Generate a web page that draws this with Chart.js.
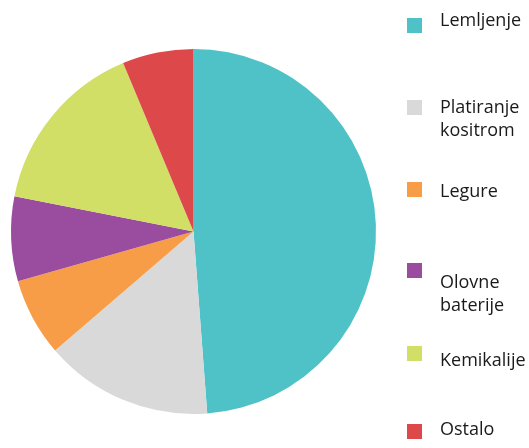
<!DOCTYPE html>
<html lang="en">
<head>
  <meta charset="UTF-8" />
  <title>Pie</title>
  <script src="https://cdn.jsdelivr.net/npm/chart.js"></script>
  <style>
    body { margin: 0; background: #fff; }
    #wrap { width: 529px; height: 448px; position: relative; }
  </style>
</head>
<body>
  <div id="wrap"><canvas id="pie"></canvas></div>
  <script>
    const labels = [["Lemljenje"], ["Platiranje", "kositrom"], ["Legure"], ["Olovne", "baterije"], ["Kemikalije"], ["Ostalo"]];
    const values = [48.8, 14.9, 6.9, 7.5, 15.6, 6.3];
    const colors = ["#4fc2c8", "#d9d9d9", "#f89d47", "#9a4d9e", "#d2df67", "#dd484b"];

    // legend layout: square top y, first text line centre y
    const legendSquareY = [18, 100, 182, 263, 346, 424];
    const legendTextY = [21, 108, 192, 283, 361, 430];

    const sideLegend = {
      id: "sideLegend",
      afterDraw(chart) {
        const ctx = chart.ctx;
        ctx.save();
        ctx.font = "18px 'Open Sans', sans-serif";
        ctx.textBaseline = "middle";
        chart.data.labels.forEach((lab, i) => {
          ctx.fillStyle = chart.data.datasets[0].backgroundColor[i];
          ctx.fillRect(407, legendSquareY[i], 15, 15);
          ctx.fillStyle = "#1a1a1a";
          lab.forEach((line, j) => {
            ctx.fillText(line, 440, legendTextY[i] + j * 23);
          });
        });
        ctx.restore();
      }
    };

    new Chart(document.getElementById("pie"), {
      type: "pie",
      data: {
        labels,
        datasets: [{
          data: values,
          backgroundColor: colors,
          borderWidth: 0
        }]
      },
      options: {
        responsive: true,
        maintainAspectRatio: false,
        animation: false,
        layout: { padding: { left: 11, top: 49, right: 153, bottom: 34 } },
        plugins: {
          legend: { display: false },
          tooltip: { enabled: false }
        }
      },
      plugins: [sideLegend]
    });
  </script>
</body>
</html>
